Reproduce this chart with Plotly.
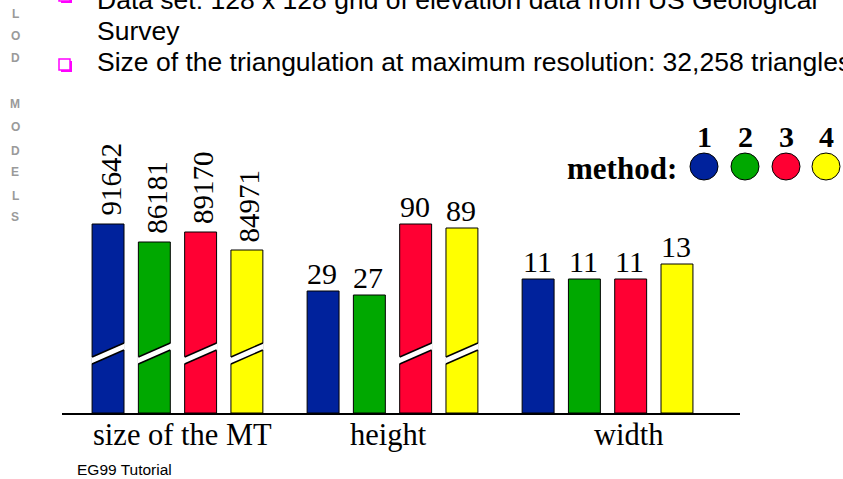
import plotly.graph_objects as go

# ---------------- data ----------------
categories = ["size of the MT", "height", "width"]
methods = ["1", "2", "3", "4"]
method_colors = ["#00229c", "#00a800", "#ff0033", "#ffff00"]
# values printed above the bars
values_m1 = [91642, 29, 11]
values_m2 = [86181, 27, 11]
values_m3 = [89170, 90, 11]
values_m4 = [84971, 89, 13]
# drawn bar heights as they appear on the slide (slide is not to scale; some bars are broken)
heights_m1 = [189, 122, 134]
heights_m2 = [171, 118, 134]
heights_m3 = [181, 189, 134]
heights_m4 = [163, 185, 149]
# which bars are drawn with a break mark
broken_m1 = [True, False, False]
broken_m2 = [True, False, False]
broken_m3 = [True, True, False]
broken_m4 = [True, True, False]

bullet_lines = [
    "Data set: 128 x 128 grid of elevation data from US Geological",
    "Survey",
    "Size of the triangulation at maximum resolution: 32,258 triangles",
]
side_letters = ["L", "O", "D", "M", "O", "D", "E", "L", "S"]
footer = "EG99 Tutorial"
legend_title = "method:"

values = [values_m1, values_m2, values_m3, values_m4]
heights = [heights_m1, heights_m2, heights_m3, heights_m4]
broken = [broken_m1, broken_m2, broken_m3, broken_m4]

# ---------------- layout helpers ----------------
W, H = 843, 479
def px(x):
    return x / W
def py(y):
    return 1 - y / H

BASE_Y = 413
BARGAP = 0.139
GROUPGAP = 0.31
slot = (1 - BARGAP) / 4
half_bar = slot * (1 - GROUPGAP) / 2

fig = go.Figure()
for i, m in enumerate(methods):
    fig.add_trace(go.Bar(
        x=list(range(len(categories))), y=heights[i], name="method " + m,
        marker=dict(color=method_colors[i], line=dict(color="black", width=1)),
        hoverinfo="skip", showlegend=False,
    ))

serif = "Liberation Serif, Times New Roman, serif"
sans = "Liberation Sans, Arial, sans-serif"

annotations = []
shapes = []

# value labels
for i in range(4):
    for g in range(len(categories)):
        xc = g + (i - 1.5) * slot
        if g == 0:
            annotations.append(dict(x=xc, y=heights[i][g], xref="x", yref="y",
                                    text=str(values[i][g]), showarrow=False, textangle=-90,
                                    xanchor="center", yanchor="bottom", xshift=2, yshift=6,
                                    font=dict(family=serif, size=29, color="black")))
        else:
            annotations.append(dict(x=xc, y=heights[i][g], xref="x", yref="y",
                                    text=str(values[i][g]), showarrow=False,
                                    xanchor="center", yanchor="bottom", xshift=-1, yshift=-1,
                                    font=dict(family=serif, size=30, color="black")))
        if broken[i][g]:
            x0 = xc - half_bar - 0.004
            x1 = xc + half_bar + 0.004
            lo_l, lo_r, hi_l, hi_r = 49, 63, 56, 70
            shapes.append(dict(type="path", xref="x", yref="y",
                               path=f"M {x0},{lo_l} L {x1},{lo_r} L {x1},{hi_r} L {x0},{hi_l} Z",
                               fillcolor="white", line=dict(width=0)))
            shapes.append(dict(type="line", xref="x", yref="y", x0=xc - half_bar, y0=lo_l,
                               x1=xc + half_bar, y1=lo_r, line=dict(color="black", width=1.5)))
            shapes.append(dict(type="line", xref="x", yref="y", x0=xc - half_bar, y0=hi_l,
                               x1=xc + half_bar, y1=hi_r, line=dict(color="black", width=1.5)))

# category labels
cat_shift = [5, -4, 21]
for g, c in enumerate(categories):
    annotations.append(dict(x=g, y=py(BASE_Y), xref="x", yref="paper", text=c, showarrow=False,
                            xanchor="center", yanchor="top", xshift=cat_shift[g], yshift=-3,
                            font=dict(family=serif, size=30.5, color="black")))

# legend
annotations.append(dict(x=px(679), y=py(168), xref="paper", yref="paper", text="<b>" + legend_title + "</b>",
                        showarrow=False, xanchor="right", yanchor="middle",
                        font=dict(family=serif, size=31, color="black")))
leg_x = [704, 745, 786, 826]
for i, m in enumerate(methods):
    annotations.append(dict(x=px(leg_x[i]), y=py(137), xref="paper", yref="paper", text="<b>" + m + "</b>",
                            showarrow=False, xanchor="center", yanchor="middle",
                            font=dict(family=serif, size=30, color="black")))
    shapes.append(dict(type="circle", xref="paper", yref="paper",
                       x0=px(leg_x[i] - 14), x1=px(leg_x[i] + 14), y0=py(180), y1=py(153),
                       fillcolor=method_colors[i], line=dict(color="black", width=1)))

# slide text
line_y = [0, 31, 62]
for t, yy in zip(bullet_lines, line_y):
    annotations.append(dict(x=px(95), y=py(yy), xref="paper", yref="paper", text=t, showarrow=False,
                            xanchor="left", yanchor="middle",
                            font=dict(family=sans, size=26.5, color="black")))
for by in [-10, 59]:
    shapes.append(dict(type="rect", xref="paper", yref="paper", x0=px(61), x1=px(72),
                       y0=py(by + 13), y1=py(by + 2), fillcolor="#ff00ff", line=dict(width=0)))
    shapes.append(dict(type="rect", xref="paper", yref="paper", x0=px(59), x1=px(70),
                       y0=py(by + 11), y1=py(by), fillcolor="white", line=dict(color="#ff00ff", width=1.5)))

side_y = [14, 36, 58, 104, 127, 151, 172, 196, 217]
for t, yy in zip(side_letters, side_y):
    annotations.append(dict(x=px(15), y=py(yy), xref="paper", yref="paper", text="<b>" + t + "</b>",
                            showarrow=False, xanchor="center", yanchor="middle",
                            font=dict(family=sans, size=12, color="#9a9a9a")))

annotations.append(dict(x=px(75), y=py(469), xref="paper", yref="paper", text=footer, showarrow=False,
                        xanchor="left", yanchor="middle", font=dict(family=sans, size=15.5, color="black")))

fig.update_layout(
    width=W, height=H, margin=dict(l=0, r=0, t=0, b=0),
    paper_bgcolor="white", plot_bgcolor="white",
    barmode="group", bargap=BARGAP, bargroupgap=GROUPGAP,
    xaxis=dict(domain=[px(62), px(740)], range=[-0.537, 2.616], showgrid=False, zeroline=False,
               showticklabels=False, ticks="", showline=True, linecolor="black", linewidth=1.5,
               fixedrange=True),
    yaxis=dict(domain=[py(BASE_Y), 1], range=[0, BASE_Y], visible=False, fixedrange=True),
    annotations=annotations, shapes=shapes,
)

fig.write_html("out.html", config={"displayModeBar": False},
               post_script="document.body.style.margin='0';document.body.style.overflow='hidden';")
